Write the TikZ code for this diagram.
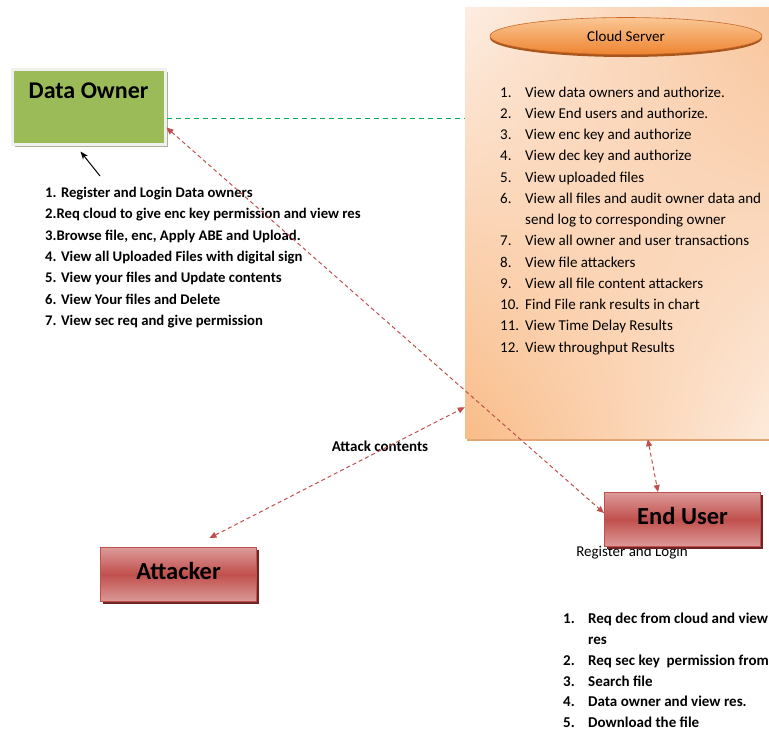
\documentclass[tikz,border=0pt]{standalone}
\usepackage{fontspec}
\setmainfont{Carlito}
\usetikzlibrary{shapes.geometric,arrows.meta,shadows,shadings}
\definecolor{doGreen}{HTML}{9BBB59}
\definecolor{doBorder}{HTML}{F0F0F0}
\definecolor{doShadow}{HTML}{A9B296}
\definecolor{redMid}{HTML}{C0504D}
\definecolor{redLight}{HTML}{DC9A98}
\definecolor{redShadow}{HTML}{6E2523}
\definecolor{linkRed}{HTML}{C0504D}
\definecolor{linkGreen}{HTML}{00B050}
\definecolor{cloudUL}{HTML}{FDEDE2}
\definecolor{cloudUR}{HTML}{F8C49A}
\definecolor{cloudLL}{HTML}{F9BC88}
\definecolor{cloudLR}{HTML}{FDEBDD}
\definecolor{cloudShadow}{HTML}{E2A675}
\definecolor{ovalTop}{HTML}{FBC795}
\definecolor{ovalBot}{HTML}{EE8431}
\definecolor{ovalRim}{HTML}{C8692A}
\definecolor{ovalShadow}{HTML}{A9561C}
\begin{document}
\begin{tikzpicture}[x=1pt,y=-1pt,
  dobox/.style={rectangle, fill=doGreen, draw=doBorder, line width=3pt,
    minimum width=153pt, minimum height=75pt, inner sep=0pt,
    drop shadow={shadow xshift=2.5pt, shadow yshift=-2.5pt, fill=doShadow, opacity=1}},
  redbox/.style={rectangle, draw=redMid, line width=1pt,
    top color=redLight, bottom color=redLight, middle color=redMid,
    minimum width=156pt, minimum height=54pt, inner sep=0pt,
    font=\fontsize{24.5}{28}\selectfont\bfseries, text depth=8pt,
    drop shadow={shadow xshift=2pt, shadow yshift=-2pt, fill=redShadow, opacity=1}},
  listtext/.style={anchor=north west, inner sep=0pt, align=left},
  redlink/.style={draw=linkRed, line width=1pt, dash pattern=on 4pt off 3pt,
    {Triangle[length=7pt,width=6pt]}-{Triangle[length=7pt,width=6pt]}},
]
\useasboundingbox (0,0) rectangle (769,732);

% Cloud server panel
\fill[cloudShadow] (467,9) rectangle (780,440.5);
\node[rectangle, minimum width=312pt, minimum height=431pt, inner sep=0pt,
  upper left=cloudUL, upper right=cloudUR, lower left=cloudLL, lower right=cloudLR]
  (cloud) at (621,222.5) {};
\fill[ovalShadow] (626,38) ellipse [x radius=136pt, y radius=19pt];
\node[ellipse, minimum width=272pt, minimum height=37pt, inner sep=0pt,
  top color=ovalTop, bottom color=ovalBot, draw=ovalRim, line width=0.6pt,
  font=\fontsize{15}{17}\selectfont] (cs) at (626,36) {Cloud Server};

\node[listtext, font=\fontsize{15}{21.25}\selectfont] (clist) at (500,86.5) {%
\makebox[25pt][l]{1.}View data owners and authorize.\\
\makebox[25pt][l]{2.}View End users and authorize.\\
\makebox[25pt][l]{3.}View enc key and authorize\\
\makebox[25pt][l]{4.}View dec key and authorize\\
\makebox[25pt][l]{5.}View uploaded files\\
\makebox[25pt][l]{6.}View all files and audit owner data and\\
\makebox[25pt][l]{}send log to corresponding owner\\
\makebox[25pt][l]{7.}View all owner and user transactions\\
\makebox[25pt][l]{8.}View file attackers\\
\makebox[25pt][l]{9.}View all file content attackers\\
\makebox[25pt][l]{10.}Find File rank results in chart\\
\makebox[25pt][l]{11.}View Time Delay Results\\
\makebox[25pt][l]{12.}View throughput Results};

% Data owner
\node[dobox, label={[font=\fontsize{24}{28}\selectfont\bfseries, anchor=north, yshift=-12pt]north:Data Owner}]
  (DO) at (88.5,106.5) {};
\node[listtext, font=\fontsize{14.7}{21.3}\selectfont\bfseries] (olist) at (45,187) {%
1. Register and Login Data owners\\
2.Req cloud to give enc key permission and view res\\
3.Browse file, enc, Apply ABE and Upload.\\
4. View all Uploaded Files with digital sign\\
5. View your files and Update contents\\
6. View Your files and Delete\\
7. View sec req and give permission};

% End user
\node[font=\fontsize{15}{17}\selectfont] (reg) at (632,553) {Register and Login};
\node[redbox] (EU) at (682.5,519.5) {End User};
\node[listtext, font=\fontsize{15}{20.8}\selectfont\bfseries] (ulist) at (563,613) {%
\makebox[25pt][l]{1.}Req dec from cloud and view\\
\makebox[25pt][l]{}res\\
\makebox[25pt][l]{2.}Req sec key\ \ permission from\\
\makebox[25pt][l]{3.}Search file\\
\makebox[25pt][l]{4.}Data owner and view res.\\
\makebox[25pt][l]{5.}Download the file};

% Attacker
\node[redbox] (AT) at (178.5,574.5) {Attacker};
\node[font=\fontsize{15}{17}\selectfont\bfseries] (attlbl) at (380,446) {Attack contents};

% Connectors
\coordinate (g1) at ([yshift=-11.5pt]DO.east);
\draw[linkGreen, line width=1pt, dash pattern=on 5pt off 4pt] (g1) -- (g1 -| cloud.west);
\draw[redlink] ([yshift=-21pt]DO.east) -- ([yshift=6.5pt]EU.west);
\draw[redlink] ([shift={(31pt,9pt)}]AT.north) -- ([yshift=31pt]cloud.south west);
\draw[redlink] ([xshift=183pt,yshift=-1pt]cloud.south west) -- ([xshift=-24.5pt]EU.north);
\coordinate (bk) at (100,176);
\draw[black, line width=1pt, -{Stealth[length=8pt,width=6pt]}] (bk) -- ([shift={(-8pt,-6pt)}]DO.south);
\end{tikzpicture}
\end{document}
